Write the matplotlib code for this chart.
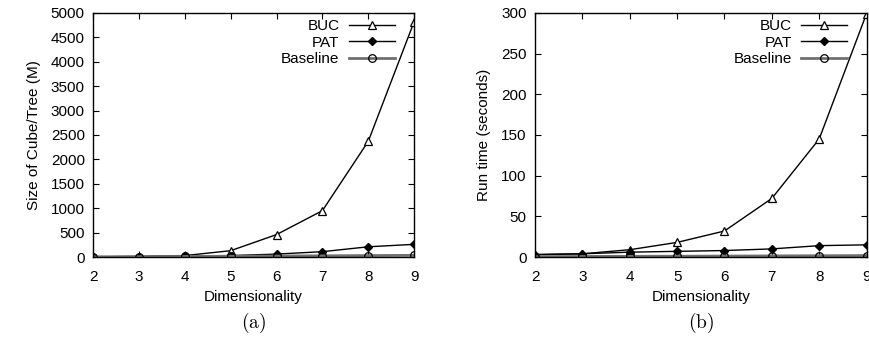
import matplotlib.pyplot as plt

plt.rcParams['font.family'] = ['Liberation Sans', 'DejaVu Sans']
plt.rcParams['mathtext.fontset'] = 'cm'

dims = [2, 3, 4, 5, 6, 7, 8, 9]

# (a) size of cube / tree (M)
buc_size = [5, 10, 30, 130, 460, 950, 2370, 4820]
pat_size = [5, 10, 20, 30, 60, 110, 210, 260]
base_size = [5, 8, 12, 16, 20, 25, 30, 35]

# (b) run time (seconds)
buc_time = [3, 4, 9, 18, 32, 72, 145, 299]
pat_time = [3, 4, 6, 7, 8, 10, 14, 15]
base_time = [0.5, 0.7, 0.9, 1.0, 1.2, 1.4, 1.6, 1.8]


def draw_panel(ax, buc, pat, base, ylabel, ymax, ystep, tag, width_px):
    ax.plot(dims, buc, color='black', lw=1, marker='^', ms=5.5, mfc='white',
            mec='black', mew=0.9, label='BUC')
    ax.plot(dims, pat, color='black', lw=1, marker='D', ms=4, mfc='black',
            mec='black', label='PAT')
    ax.plot(dims, base, color='#707070', lw=2, marker='o', ms=5.5, mfc='none',
            mec='black', mew=0.9, label='Baseline')
    ax.set_xlim(2, 9)
    ax.set_ylim(0, ymax)
    ax.set_xticks(dims)
    ax.set_yticks(range(0, ymax + 1, ystep))
    ax.tick_params(direction='in', top=True, right=True, labelsize=11,
                   length=4.5, pad=6)
    ax.tick_params(axis='x', pad=9.5)
    ax.set_xlabel('Dimensionality', fontsize=11, labelpad=4)
    ax.set_ylabel(ylabel, fontsize=11, labelpad=7)
    for s in ax.spines.values():
        s.set_linewidth(1)
    leg = ax.legend(loc='upper right', bbox_to_anchor=(1 - 18 / width_px, 1 - 5 / 244),
                    frameon=False, markerfirst=False, fontsize=11,
                    handlelength=3.0, labelspacing=0.15, borderaxespad=0,
                    handletextpad=0.6, borderpad=0.1)
    for t in leg.get_texts():
        t.set_ha('right')
    ax.text(0.5, -0.27, tag, transform=ax.transAxes, ha='center', va='center',
            fontsize=14)


fig = plt.figure(figsize=(8.7, 3.4), dpi=100)
ax1 = fig.add_axes([0.107, 0.244, 0.369, 0.718])
ax2 = fig.add_axes([0.615, 0.244, 0.381, 0.718])

draw_panel(ax1, buc_size, pat_size, base_size, 'Size of Cube/Tree (M)', 5000, 500,
           r'$\mathrm{(a)}$', 321)
draw_panel(ax2, buc_time, pat_time, base_time, 'Run time (seconds)', 300, 50,
           r'$\mathrm{(b)}$', 332)

fig.savefig('out.png', dpi=100)
